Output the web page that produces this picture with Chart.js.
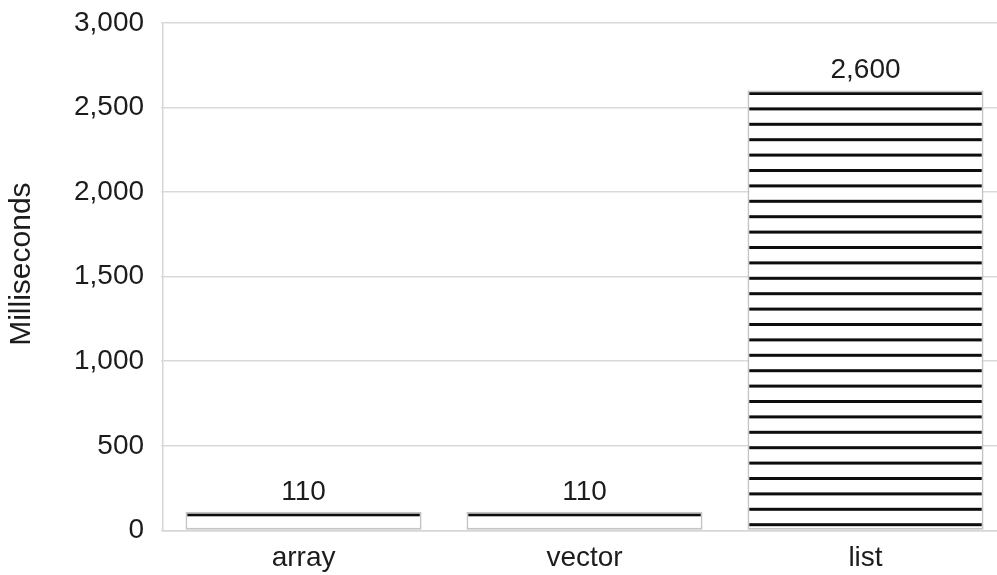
<!DOCTYPE html>
<html>
<head>
<meta charset="utf-8">
<script src="https://cdn.jsdelivr.net/npm/chart.js@4/dist/chart.umd.min.js"></script>
<style>
  html, body { margin: 0; padding: 0; background: #fff; overflow: hidden; }
  #wrap { width: 1006px; height: 597px; margin-top: -11px; }
</style>
</head>
<body>
<div id="wrap"><canvas id="chart" width="1006" height="597"></canvas></div>
<script>
// values
const categories = ["array", "vector", "list"];
const millis = [110, 110, 2600];
const yTicks = [0, 500, 1000, 1500, 2000, 2500, 3000];

const FONT = "'Liberation Sans', Arial, Helvetica, sans-serif";
const TEXT = "#1c1c1c";

// horizontal black stripes on white, 15.4px apart (5 stripes per 77px tile)
function stripeTile() {
    const c = document.createElement("canvas");
    c.width = 8;
    c.height = 77;
    const g = c.getContext("2d");
    g.fillStyle = "#fff";
    g.fillRect(0, 0, 8, 77);
    g.fillStyle = "#0d0d0d";
    for (let i = 0; i < 5; i++) {
        g.fillRect(0, i * 15.4, 8, 3);
    }
    return c;
}
const tile = stripeTile();

function barFill(ctx) {
    const chart = ctx.chart;
    const pat = chart.ctx.createPattern(tile, "repeat");
    const y = chart.scales.y;
    if (y && ctx.parsed) {
        const top = y.getPixelForValue(ctx.parsed.y);
        pat.setTransform(new DOMMatrix([1, 0, 0, 1, 0, top + 1.5]));
    }
    return pat;
}

// numbers above the bars
const valueLabels = {
    id: "valueLabels",
    afterDatasetsDraw(chart) {
        const ctx = chart.ctx;
        const meta = chart.getDatasetMeta(0);
        ctx.save();
        ctx.font = "28px " + FONT;
        ctx.fillStyle = TEXT;
        ctx.textAlign = "center";
        ctx.textBaseline = "alphabetic";
        meta.data.forEach((bar, i) => {
            const v = chart.data.datasets[0].data[i];
            ctx.fillText(v.toLocaleString("en-US"), bar.x, bar.y - 12);
        });
        ctx.restore();
    }
};

new Chart(document.getElementById("chart"), {
    type: "bar",
    data: {
        labels: categories,
        datasets: [{
            data: millis,
            backgroundColor: barFill,
            borderColor: "#c4c4c4",
            borderWidth: 1.8,
            borderSkipped: false,
            barPercentage: 0.84,
            categoryPercentage: 1
        }]
    },
    options: {
        responsive: false,
        animation: false,
        layout: { padding: { top: 0, left: 0, right: 0, bottom: 0 } },
        plugins: {
            legend: { display: false },
            tooltip: { enabled: false }
        },
        scales: {
            x: {
                grid: { display: false, drawTicks: false },
                border: { color: "#d6d6d6", width: 1.5 },
                ticks: {
                    color: TEXT,
                    font: { family: FONT, size: 28 },
                    padding: 11
                }
            },
            y: {
                min: 0,
                max: 3000,
                afterBuildTicks: (s) => { s.ticks = yTicks.map(v => ({ value: v })); },
                grid: { color: "#d9d9d9", lineWidth: 1.5, tickLength: 2 },
                border: { color: "#d6d6d6", width: 1.5 },
                ticks: {
                    color: TEXT,
                    font: { family: FONT, size: 28 },
                    padding: 17,
                    callback: v => v.toLocaleString("en-US")
                },
                title: {
                    display: true,
                    text: "   Milliseconds",
                    color: TEXT,
                    font: { family: FONT, size: 30 },
                    padding: { top: 4, bottom: 17 }
                }
            }
        }
    },
    plugins: [valueLabels]
});
</script>
</body>
</html>
